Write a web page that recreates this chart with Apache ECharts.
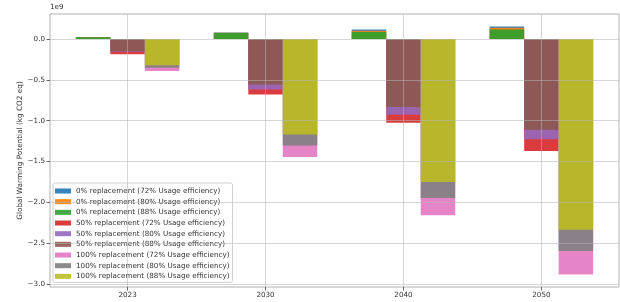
<!DOCTYPE html>
<html>
<head>
<meta charset="utf-8">
<script src="https://cdn.jsdelivr.net/npm/echarts@6/dist/echarts.min.js"></script>
<style>html,body{margin:0;padding:0;background:#fff}#c{width:620px;height:302px}</style>
</head>
<body>
<div id="c"></div>
<script>
// Values in units of 1e9 kg CO2 eq
const categories = ['2023', '2030', '2040', '2050'];
const r0_72 = [0.025, 0.08, 0.118, 0.156];
const r0_80 = [0.024, 0.078, 0.103, 0.140];
const r0_88 = [0.022, 0.075, 0.088, 0.119];
const r50_72 = [-0.185, -0.68, -1.025, -1.372];
const r50_80 = [-0.155, -0.617, -0.927, -1.229];
const r50_88 = [-0.15, -0.555, -0.833, -1.11];
const r100_72 = [-0.39, -1.446, -2.16, -2.887];
const r100_80 = [-0.35, -1.303, -1.948, -2.598];
const r100_88 = [-0.32, -1.168, -1.752, -2.336];
const yTicks = [0.0, -0.5, -1.0, -1.5, -2.0, -2.5, -3.0];

const seriesDefs = [
  {name: '0% replacement (72% Usage efficiency)', data: r0_72, group: 0, color: '#1f77b4'},
  {name: '0% replacement (80% Usage efficiency)', data: r0_80, group: 0, color: '#ff7f0e'},
  {name: '0% replacement (88% Usage efficiency)', data: r0_88, group: 0, color: '#2ca02c'},
  {name: '50% replacement (72% Usage efficiency)', data: r50_72, group: 1, color: '#d62728'},
  {name: '50% replacement (80% Usage efficiency)', data: r50_80, group: 1, color: '#9467bd'},
  {name: '50% replacement (88% Usage efficiency)', data: r50_88, group: 1, color: '#8c564b'},
  {name: '100% replacement (72% Usage efficiency)', data: r100_72, group: 2, color: '#e377c2'},
  {name: '100% replacement (80% Usage efficiency)', data: r100_80, group: 2, color: '#7f7f7f'},
  {name: '100% replacement (88% Usage efficiency)', data: r100_88, group: 2, color: '#bcbd22'}
];

const BW = 0.25;
const FONT = 'DejaVu Sans';
const TXT = '#333';
const GRID = 'rgba(180,180,180,0.55)';

function renderBar(params, api) {
  const x = api.value(0), v = api.value(1);
  const p0 = api.coord([x - BW / 2, 0]);
  const p1 = api.coord([x + BW / 2, v]);
  return {
    type: 'rect',
    shape: {x: p0[0], y: Math.min(p0[1], p1[1]), width: p1[0] - p0[0], height: Math.abs(p1[1] - p0[1])},
    style: api.style()
  };
}

const series = seriesDefs.map(s => ({
  type: 'custom',
  name: s.name,
  renderItem: renderBar,
  encode: {x: 0, y: 1},
  z: 1,
  itemStyle: {color: s.color, opacity: 0.9},
  data: s.data.map((v, i) => [i + (s.group - 1) * BW, v])
}));

const chart = echarts.init(document.getElementById('c'), null, {renderer: 'canvas'});
chart.setOption({
  animation: false,
  backgroundColor: '#fff',
  grid: {left: 50, right: 1, top: 14, bottom: 15, show: true, borderColor: '#b0b0b0', borderWidth: 1, containLabel: false},
  xAxis: {
    type: 'value', min: -0.5625, max: 3.5625, z: 5, position: 'bottom',
    axisLine: {show: false, onZero: false},
    axisTick: {show: true, length: 3.5, lineStyle: {color: '#666'}, customValues: [0, 1, 2, 3]},
    axisLabel: {
      customValues: [0, 1, 2, 3],
      formatter: v => categories[Math.round(v)] || '', color: TXT, fontFamily: FONT, fontSize: 7.2, margin: 5
    },
    splitLine: {show: true, lineStyle: {color: GRID, width: 1}}
  },
  yAxis: {
    type: 'value', min: -3.039, max: 0.308, z: 5, position: 'left',
    name: 'Global Warming Potential (kg CO2 eq)', nameLocation: 'middle', nameGap: 26, nameRotate: 90,
    nameMoveOverlap: false,
    nameTextStyle: {color: TXT, fontFamily: FONT, fontSize: 7.3},
    axisLine: {show: false, onZero: false},
    axisTick: {show: true, length: 3.5, lineStyle: {color: '#666'}, customValues: yTicks},
    axisLabel: {
      customValues: yTicks,
      formatter: v => (Math.abs(v) < 1e-9 ? '0.0' : (v < 0 ? '\u2212' : '') + Math.abs(v).toFixed(1)),
      color: TXT, fontFamily: FONT, fontSize: 7.2, margin: 5
    },
    splitLine: {show: true, lineStyle: {color: GRID, width: 1}}
  },
  legend: {
    orient: 'vertical', left: 53, top: 183,
    padding: [3, 3, 1, 2], itemGap: 0.67, itemWidth: 16, itemHeight: 5,
    icon: 'rect', backgroundColor: 'rgba(255,255,255,0.85)', borderColor: '#d0d0d0', borderWidth: 1, borderRadius: 2,
    textStyle: {color: TXT, fontFamily: FONT, fontSize: 7.2, lineHeight: 10},
    data: seriesDefs.map(s => s.name)
  },
  graphic: [{type: 'text', left: 50, top: 4, style: {text: '1e9', fill: TXT, font: '7.2px "DejaVu Sans"'}}],
  series: series
});
</script>
</body>
</html>
